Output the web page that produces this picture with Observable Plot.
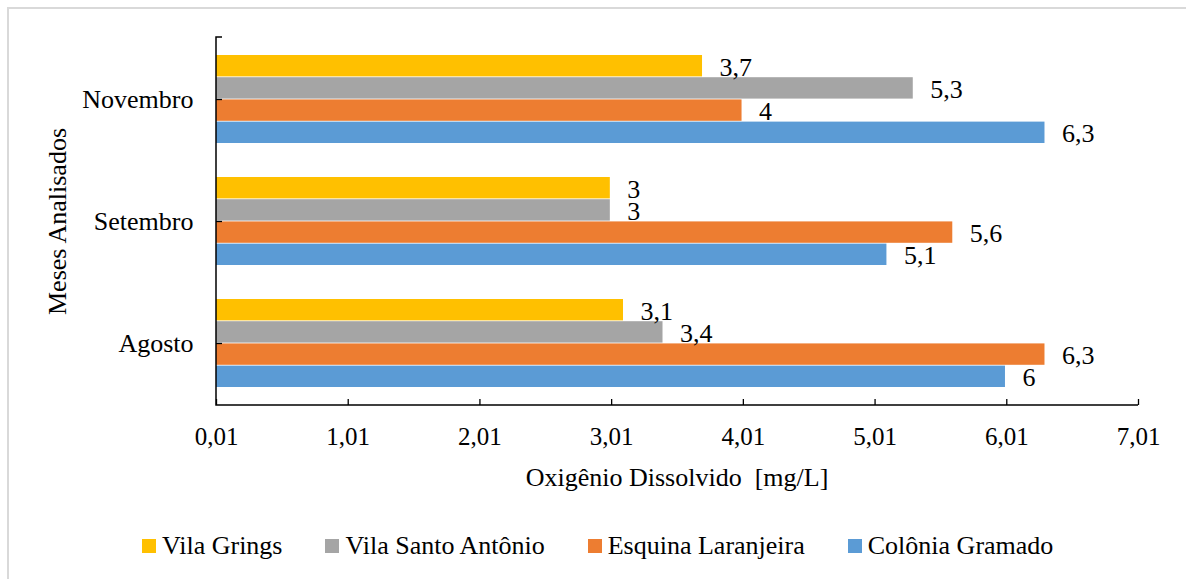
<!DOCTYPE html>
<html>
<head>
<meta charset="utf-8">
<script src="https://cdn.jsdelivr.net/npm/d3@7"></script>
<script src="https://cdn.jsdelivr.net/npm/@observablehq/plot@0.6"></script>
<style>
  body { margin: 0; background: #fff; font-family: "Liberation Serif", serif; }
  #wrap { position: relative; width: 1186px; height: 579px; }
  #frame { position: absolute; left: 7px; top: 7px; right: 0; bottom: 0;
           border-top: 2px solid #d9d9d9; border-left: 2px solid #d9d9d9; }
  #chart { position: absolute; left: 0; top: 0; }
  #xtitle { position: absolute; left: 427px; width: 500px; top: 463px; text-align: center;
            font-size: 26px; line-height: 30px; color: #000; white-space: pre; }
  #legend { position: absolute; left: 142px; top: 531px; display: flex; gap: 43px;
            font-size: 26px; line-height: 30px; color: #000; }
  .item { display: flex; align-items: center; }
  .sw { width: 14px; height: 14px; margin-right: 6px; flex: none; }
</style>
</head>
<body>
<div id="wrap">
  <div id="frame"></div>
  <div id="chart"></div>
  <div id="xtitle">Oxigênio Dissolvido  [mg/L]</div>
  <div id="legend"></div>
</div>
<script>
// Dissolved oxygen (mg/L) per sampling point and month
const months = ["Novembro", "Setembro", "Agosto"];
const series = ["Vila Grings", "Vila Santo Antônio", "Esquina Laranjeira", "Colônia Gramado"];
const colors = ["#FFC000", "#A5A5A5", "#ED7D31", "#5B9BD5"];

// values in the order of `months`
const vilaGrings        = [3.7, 3.0, 3.1];
const vilaSantoAntonio  = [5.3, 3.0, 3.4];
const esquinaLaranjeira = [4.0, 5.6, 6.3];
const coloniaGramado    = [6.3, 5.1, 6.0];

const xTicks = [0.01, 1.01, 2.01, 3.01, 4.01, 5.01, 6.01, 7.01];

const yTitle = "Meses Analisados";

const seriesValues = [vilaGrings, vilaSantoAntonio, esquinaLaranjeira, coloniaGramado];
const rows = series.map((s, i) => months.map((m, j) => ({month: m, series: s, value: seriesValues[i][j]})));

const comma = (v) => String(v).replace(".", ",");
const tickFmt = (v) => v.toFixed(2).replace(".", ",");

// layout
const W = 1186, H = 510;
const mt = 37, mb = 105, ml = 216, mr = 48;
const plotH = H - mt - mb, plotW = W - ml - mr;
const padIn = 0.276, padOut = 0.138;
const step = plotH / (months.length - padIn + 2 * padOut);
const bw = step * (1 - padIn);
const barH = bw / series.length;

// axis lines: left spine with a short cap at the top, and the bottom baseline
const spines = (index, scales, values, dims) => {
  const x0 = scales.x(xTicks[0]);
  const x1 = scales.x(xTicks[xTicks.length - 1]);
  const yTop = dims.marginTop, yBot = dims.height - dims.marginBottom;
  const g = d3.create("svg:g").attr("fill", "none").attr("stroke", "#000").attr("stroke-width", 1.5);
  g.append("path").attr("d", `M${x0 + 6},${yTop}H${x0}V${yBot}H${x1}`);
  return g.node();
};

function draw() {
  const marks = [];
  rows.forEach((data, i) => {
    marks.push(Plot.barX(data, {
      y: "month", x1: xTicks[0], x2: "value", fill: colors[i],
      insetTop: i * barH, insetBottom: (series.length - 1 - i) * barH
    }));
  });
  rows.forEach((data, i) => {
    marks.push(Plot.text(data, {
      y: "month", x: "value", text: (d) => comma(d.value),
      textAnchor: "start", dx: 17, dy: -bw / 2 + (i + 0.5) * barH + 1,
      fontSize: 26, fill: "#000"
    }));
  });
  marks.push(
    Plot.tickX(xTicks, {x: (d) => d, stroke: "#000", strokeWidth: 1.3, insetTop: plotH - 6}),
    Plot.tickY(months, {y: (d) => d, stroke: "#000", strokeWidth: 1.3, insetRight: plotW - 6}),
    spines,
    Plot.axisX({ticks: xTicks, tickFormat: tickFmt, tickSize: 0, tickPadding: 22, fontSize: 25, fill: "#000", label: null}),
    Plot.axisY({tickSize: 0, tickPadding: 23, fontSize: 26, fill: "#000", label: null}),
    Plot.text([yTitle], {text: (d) => d, frameAnchor: "left", dx: 57.5 - ml, rotate: -90, fontSize: 26,
                         fill: "#000", textAnchor: "middle", lineAnchor: "middle"})
  );

  const chart = Plot.plot({
    width: W, height: H,
    marginTop: mt, marginBottom: mb, marginLeft: ml, marginRight: mr,
    style: {fontFamily: "Liberation Serif", fontSize: "26px"},
    x: {domain: [xTicks[0], xTicks[xTicks.length - 1]]},
    y: {domain: months, paddingInner: padIn, paddingOuter: padOut},
    marks
  });
  document.getElementById("chart").appendChild(chart);

  // legend below the chart
  const legend = document.getElementById("legend");
  series.forEach((s, i) => {
    const item = document.createElement("div");
    item.className = "item";
    item.innerHTML = `<span class="sw" style="background:${colors[i]}"></span><span>${s}</span>`;
    legend.append(item);
  });
}

draw();
if (document.fonts && document.fonts.load) document.fonts.load("26px 'Liberation Serif'");
</script>
</body>
</html>
